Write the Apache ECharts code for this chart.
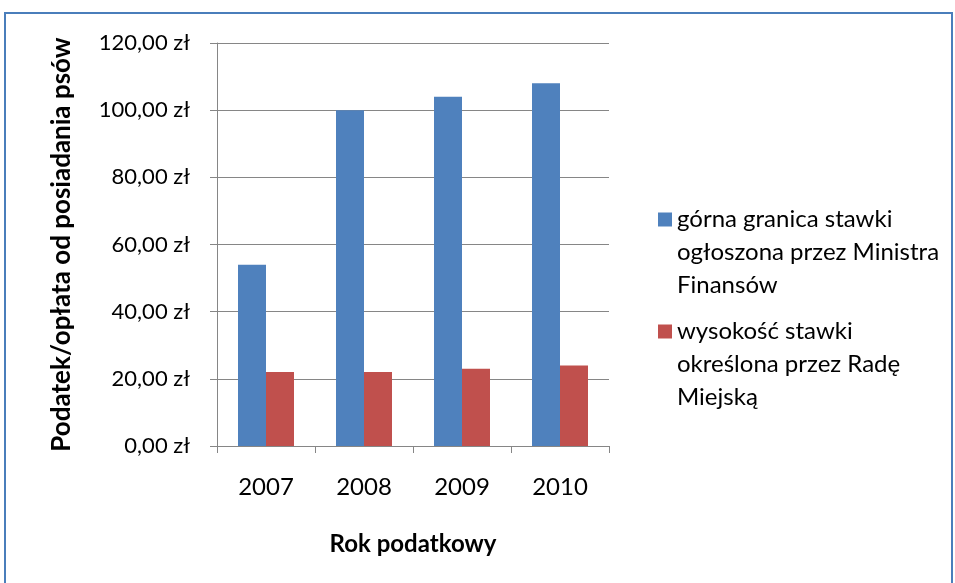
<!DOCTYPE html>
<html>
<head>
<meta charset="utf-8">
<script src="https://cdn.jsdelivr.net/npm/echarts@6/dist/echarts.min.js"></script>
<style>
html, body { margin: 0; padding: 0; background: #fff; }
#chart { width: 955px; height: 583px; }
</style>
</head>
<body>
<div id="chart"></div>
<script>
var years = ["2007", "2008", "2009", "2010"];
var ministerRate = [54, 100, 104, 108];
var councilRate = [22, 22, 23, 24];
var seriesNames = [
	"górna granica stawki\nogłoszona przez Ministra\nFinansów",
	"wysokość stawki\nokreślona przez Radę\nMiejską",
];
var yTicks = { min: 0, max: 120, interval: 20 };

var font = "Lato";
var chart = echarts.init(document.getElementById("chart"));
var option = {
	backgroundColor: "#ffffff",
	animation: false,
	textStyle: { fontFamily: font },
	graphic: [
		{
			type: "rect",
			shape: { x: 5, y: 13, width: 947, height: 600 },
			style: { fill: "none", stroke: "#4a7ebb", lineWidth: 2 },
			silent: true,
		},
	],
	grid: { left: 217, right: 346, top: 43, bottom: 137 },
	legend: {
		orient: "vertical",
		left: 653,
		top: 132,
		itemWidth: 14,
		itemHeight: 14,
		itemGap: -53,
		icon: "rect",
		// two blank lines in front so the first line sits level with the square
		formatter: function (name) {
			return "\n\n" + name;
		},
		textStyle: {
			fontFamily: font,
			fontSize: 24,
			color: "#000",
			lineHeight: 33,
		},
		data: seriesNames,
	},
	xAxis: {
		type: "category",
		data: years,
		name: "Rok podatkowy",
		nameLocation: "middle",
		nameGap: 86,
		nameTextStyle: { fontFamily: font, fontSize: 24, fontWeight: "bold", color: "#000" },
		axisLine: { lineStyle: { color: "#868686", width: 1 } },
		axisTick: { show: true, length: 7, lineStyle: { color: "#868686" } },
		axisLabel: { fontSize: 24, color: "#000", margin: 29 },
	},
	yAxis: {
		type: "value",
		min: yTicks.min,
		max: yTicks.max,
		interval: yTicks.interval,
		name: "Podatek/opłata od posiadania psów",
		nameLocation: "middle",
		nameGap: 142,
		nameRotate: 90,
		nameTextStyle: { fontFamily: font, fontSize: 26, fontWeight: "bold", color: "#000" },
		axisLine: { show: true, lineStyle: { color: "#868686", width: 1 } },
		axisTick: { show: true, length: 7, lineStyle: { color: "#868686" } },
		splitLine: { lineStyle: { color: "#868686", width: 1 } },
		axisLabel: {
			fontSize: 22,
			color: "#000",
			margin: 27,
			formatter: function (v) {
				return v.toFixed(2).replace(".", ",") + " zł";
			},
		},
	},
	series: [
		{
			name: seriesNames[0],
			type: "bar",
			data: ministerRate,
			barWidth: 28,
			barGap: "0%",
			itemStyle: { color: "#4f81bd" },
		},
		{
			name: seriesNames[1],
			type: "bar",
			data: councilRate,
			barWidth: 28,
			barGap: "0%",
			itemStyle: { color: "#c0504d" },
		},
	],
};
chart.setOption(option);
</script>
</body>
</html>
